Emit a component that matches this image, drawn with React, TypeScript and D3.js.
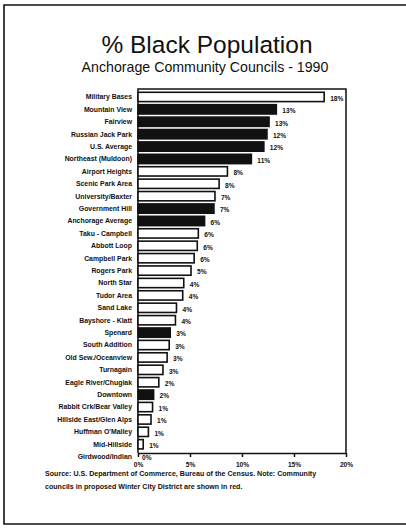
import * as d3 from "d3";
import { useEffect, useRef } from "react";

const COUNCILS = [
  "Military Bases",
  "Mountain View",
  "Fairview",
  "Russian Jack Park",
  "U.S. Average",
  "Northeast (Muldoon)",
  "Airport Heights",
  "Scenic Park Area",
  "University/Baxter",
  "Government Hill",
  "Anchorage Average",
  "Taku - Campbell",
  "Abbott Loop",
  "Campbell Park",
  "Rogers Park",
  "North Star",
  "Tudor Area",
  "Sand Lake",
  "Bayshore - Klatt",
  "Spenard",
  "South Addition",
  "Old Sew./Oceanview",
  "Turnagain",
  "Eagle River/Chugiak",
  "Downtown",
  "Rabbit Crk/Bear Valley",
  "Hillside East/Glen Alps",
  "Huffman O'Malley",
  "Mid-Hillside",
  "Girdwood/Indian",
];

const PCT_BLACK = [
  17.9, 13.3, 12.6, 12.4, 12.1, 10.9, 8.6, 7.8, 7.4, 7.3, 6.4, 5.8, 5.7, 5.4, 5.1,
  4.4, 4.3, 3.7, 3.6, 3.1, 3.0, 2.8, 2.4, 2.0, 1.5, 1.4, 1.25, 1.0, 0.5, 0,
];

const VALUE_LABELS = [
  "18%", "13%", "13%", "12%", "12%", "11%", "8%", "8%", "7%", "7%", "6%", "6%", "6%", "6%", "5%",
  "4%", "4%", "4%", "4%", "3%", "3%", "3%", "3%", "2%", "2%", "1%", "1%", "1%", "1%", "0%",
];

// councils in the proposed Winter City District (and the averages) are filled dark
const DARK = new Set([
  "Mountain View",
  "Fairview",
  "Russian Jack Park",
  "U.S. Average",
  "Northeast (Muldoon)",
  "Government Hill",
  "Anchorage Average",
  "Spenard",
  "Downtown",
]);

const X_TICKS = [0, 5, 10, 15, 20];

const W = 406;
const H = 529;
const INK = "#111";
const FONT = "'Liberation Sans', Arial, sans-serif";

export default function App() {
  const svgRef = useRef<SVGSVGElement>(null);

  useEffect(() => {
    document.body.style.margin = "0";
    const svg = d3.select(svgRef.current);
    svg.selectAll("*").remove();

    const left = 138;
    const right = 346;
    const top = 89;
    const axisY = 453;

    const x = d3.scaleLinear().domain([0, 20]).range([left, right]);
    const y = d3
      .scaleBand<string>()
      .domain(COUNCILS)
      .range([90.8, 90.8 + COUNCILS.length * 12.4])
      .paddingInner(0.25)
      .paddingOuter(0.12);

    svg.append("rect").attr("width", W).attr("height", H).attr("fill", "#fff");

    // scanned page frame
    svg
      .append("path")
      .attr("d", `M406,5 L4,5 L4,524 L406,524`)
      .attr("fill", "none")
      .attr("stroke", INK)
      .attr("stroke-width", 1.6);

    svg
      .append("text")
      .attr("x", 207)
      .attr("y", 53)
      .attr("text-anchor", "middle")
      .attr("font-family", FONT)
      .attr("font-size", 24.5)
      .attr("fill", INK)
      .text("% Black Population");

    svg
      .append("text")
      .attr("x", 205)
      .attr("y", 71.5)
      .attr("text-anchor", "middle")
      .attr("font-family", FONT)
      .attr("font-size", 14.2)
      .attr("fill", INK)
      .text("Anchorage Community Councils - 1990");

    // plot frame
    svg
      .append("path")
      .attr("d", `M${left},${axisY} L${left},${top} L${right},${top} L${right},${axisY}`)
      .attr("fill", "none")
      .attr("stroke", INK)
      .attr("stroke-width", 1.5);

    const rows = COUNCILS.map((c, i) => ({ name: c, v: PCT_BLACK[i], label: VALUE_LABELS[i] }));

    svg
      .append("g")
      .selectAll("rect")
      .data(rows.filter((d) => d.v > 0))
      .join("rect")
      .attr("x", x(0))
      .attr("y", (d) => y(d.name)!)
      .attr("width", (d) => x(d.v) - x(0))
      .attr("height", y.bandwidth())
      .attr("fill", (d) => (DARK.has(d.name) ? INK : "#fff"))
      .attr("stroke", INK)
      .attr("stroke-width", 1.6);

    svg
      .append("g")
      .selectAll("text")
      .data(rows)
      .join("text")
      .attr("x", left - 6)
      .attr("y", (d) => y(d.name)! + y.bandwidth() / 2)
      .attr("dy", "0.35em")
      .attr("text-anchor", "end")
      .attr("font-family", FONT)
      .attr("font-weight", 700)
      .attr("font-size", 6.9)
      .attr("fill", INK)
      .text((d) => d.name);

    svg
      .append("g")
      .selectAll("text")
      .data(rows)
      .join("text")
      .attr("x", (d) => x(d.v) + (d.v > 0 ? 6 : 4))
      .attr("y", (d) => y(d.name)! + y.bandwidth() / 2 + 1.5)
      .attr("dy", "0.35em")
      .attr("font-family", FONT)
      .attr("font-weight", 700)
      .attr("font-size", 6.6)
      .attr("fill", INK)
      .text((d) => d.label);

    const xAxis = d3
      .axisBottom(x)
      .tickValues(X_TICKS)
      .tickFormat((d) => `${d}%`)
      .tickSize(4)
      .tickSizeOuter(0);

    svg
      .append("g")
      .attr("transform", `translate(0,${axisY})`)
      .call(xAxis)
      .call((s) => s.select(".domain").attr("stroke", INK).attr("stroke-width", 1.5))
      .call((s) => s.selectAll("line").attr("stroke", INK).attr("stroke-width", 1.5))
      .call((s) =>
        s
          .selectAll("text")
          .attr("fill", INK)
          .attr("font-size", 6.6)
          .attr("font-weight", 700)
          .attr("font-family", FONT)
          .attr("dy", "1.05em"),
      );

    const source = [
      "Source: U.S. Department of Commerce, Bureau of the Census. Note: Community",
      "councils in proposed Winter City District are shown in red.",
    ];
    svg
      .append("g")
      .selectAll("text")
      .data(source)
      .join("text")
      .attr("x", 45)
      .attr("y", (_, i) => 476 + i * 13)
      .attr("font-family", FONT)
      .attr("font-weight", 700)
      .attr("font-size", 7.1)
      .attr("fill", INK)
      .text((d) => d);
  }, []);

  return <svg ref={svgRef} width={W} height={H} style={{ display: "block" }} />;
}
